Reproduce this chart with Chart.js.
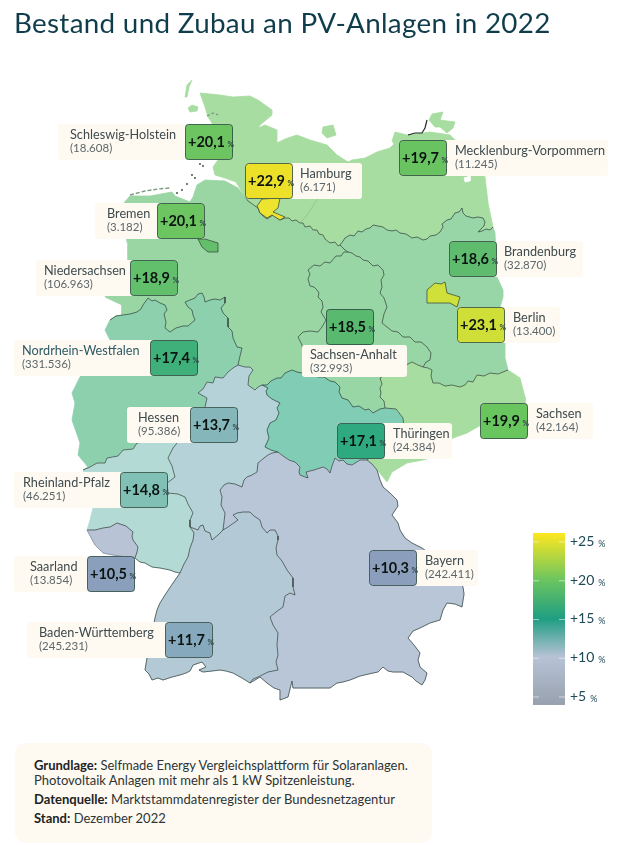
<!DOCTYPE html>
<html lang="de">
<head>
<meta charset="utf-8">
<title>Bestand und Zubau an PV-Anlagen in 2022</title>
<script src="https://cdn.jsdelivr.net/npm/chart.js@4"></script>
<style>
  body { margin: 0; background: #fff; font-family: Lato, sans-serif; }
  #wrap { position: relative; width: 633px; height: 845px; overflow: hidden; }
  canvas { position: absolute; left: 0; top: 0; }
  h1 { position: absolute; left: 14px; top: 3px; margin: 0; font-size: 27.8px; line-height: 40px; font-weight: 400; color: #0f3d4c; letter-spacing: .3px; white-space: nowrap; }
  #note { position: absolute; left: 15px; top: 743px; width: 417px; height: 100px; background: #fffaf1; border-radius: 11px; color: #2b3436; font-size: 13px; }
  #note p { position: absolute; left: 19px; margin: 0; line-height: 15px; white-space: nowrap; }
  #note b { color: #1b2325; }
</style>
</head>
<body>
<div id="wrap">
  <canvas id="karte" width="633" height="845"></canvas>
  <h1>Bestand und Zubau an PV-Anlagen in 2022</h1>
  <div id="note">
    <p style="top:15px"><b>Grundlage:</b> Selfmade Energy Vergleichsplattform für Solaranlagen.</p>
    <p style="top:30px">Photovoltaik Anlagen mit mehr als 1 kW Spitzenleistung.</p>
    <p style="top:49px"><b>Datenquelle:</b> Marktstammdatenregister der Bundesnetzagentur</p>
    <p style="top:68px"><b>Stand:</b> Dezember 2022</p>
  </div>
</div>
<script>
// Werte aus dem Bild
var laender = ['Schleswig-Holstein', 'Hamburg', 'Bremen', 'Niedersachsen', 'Mecklenburg-Vorpommern', 'Brandenburg', 'Berlin', 'Sachsen-Anhalt', 'Nordrhein-Westfalen', 'Hessen', 'Thüringen', 'Sachsen', 'Rheinland-Pfalz', 'Saarland', 'Baden-Württemberg', 'Bayern'];
var zubau = [20.1, 22.9, 20.1, 18.9, 19.7, 18.6, 23.1, 18.5, 17.4, 13.7, 17.1, 19.9, 14.8, 10.5, 11.7, 10.3];
var bestand = [18608, 6171, 3182, 106963, 11245, 32870, 13400, 32993, 331536, 95386, 24384, 42164, 46251, 13854, 245231, 242411];
var skalaTicks = [25, 20, 15, 10, 5];

// Farben
var flaechen = ['#a7dda0', '#ece42f', '#64bf6b', '#9ad6a3', '#a7dda0', '#98d5a7', '#cfe038', '#99d6a6', '#8cd0ae', '#b5d2d8', '#80ccb4', '#a7dda0', '#b4dad5', '#b8c4d6', '#b4c9d6', '#b9c6d8'];
var kacheln = ['#6cc561', '#ece128', '#6cc561', '#62bf6c', '#69c361', '#5fbc6f', '#cfdf37', '#58b96f', '#3fb07a', '#85b6ba', '#2fa97f', '#69c55e', '#80c0b5', '#8a9fbc', '#86a9bd', '#8b9fbd'];

// Position von Kachel und Beschriftung: [kachelX, kachelY, boxLinks, boxRechts, textX]
var layout = [
  [185, 124, 58, 232, 70], [245, 163, 245, 362, 300], [157, 203, 95, 205, 107], [130, 260, 36, 178, 44],
  [399, 140, 399, 608, 455], [449, 241, 449, 583, 504], [457, 307, 457, 560, 513], [326, 309, 302, 407, 310],
  [150, 340, 14, 197, 22], [190, 407, 127, 237, 138], [337, 423, 337, 452, 393], [480, 403, 480, 593, 536],
  [120, 472, 14, 167, 23], [87, 556, 14, 134, 30], [165, 622, 27, 213, 39], [369, 550, 369, 478, 425]
];

// Grenzverläufe
var shNds = [[245,197],[248,201],[251,203],[255,206],[258,208],[260,213],[263,216],[267,219],[273,215],[280,220],[285,218],[289,218],[292,221],[296,220],[300,223]];
var shMv = [[300,223],[307,215],[317,200],[323,192],[330,185],[337,177],[343,170],[348,162]];
var mvNds = [[300,223],[303,223],[305,227],[310,226],[313,230],[317,230],[319,234],[323,235],[325,239],[330,243],[335,242],[338,246],[340,245]];
var bbNds = [[340,245],[345,250],[348,252]];
var mvBb = [[340,245],[343,241],[345,238],[350,235],[354,236],[358,231],[362,232],[366,229],[370,228],[373,225],[378,226],[383,227],[387,230],[392,231],[396,230],[400,233],[406,234],[412,238],[417,237],[423,240],[427,239],[430,236],[436,235],[440,232],[443,227],[442,224],[447,220],[451,219],[455,213],[459,212],[462,208],[463,213],[466,216],[473,218],[478,217],[483,218],[485,222],[484,226],[478,232],[482,231],[486,229],[490,230],[493,227]];
var stNds = [[348,252],[344,252],[341,256],[336,256],[330,263],[325,262],[320,266],[314,265],[308,270],[310,274],[308,279],[310,286],[314,287],[317,290],[319,293],[318,297],[322,301],[323,307],[321,312],[326,320],[322,327],[318,332],[310,331],[303,332],[298,337],[300,341],[302,345],[304,360],[306,374]];
var stBb = [[348,252],[352,253],[356,256],[360,257],[363,260],[368,261],[373,266],[378,265],[383,270],[384,275],[381,280],[382,287],[380,293],[384,298],[387,307],[384,314],[382,323],[387,327],[392,331],[398,332],[403,337],[410,337],[415,342],[421,342],[427,347],[431,353],[430,360],[426,362],[423,367]];
var stSn = [[423,367],[418,365],[412,362],[406,365],[400,368],[390,372],[380,378],[382,384],[380,388],[381,393],[380,397],[384,401],[385,408]];
var bbSn = [[423,367],[428,368],[432,370],[431,376],[433,383],[439,383],[445,386],[452,385],[460,387],[465,385],[468,381],[473,382],[477,375],[484,376],[490,373],[498,374],[508,370]];
var stTh = [[306,374],[312,374],[318,377],[324,377],[330,381],[335,382],[340,387],[339,392],[342,398],[348,400],[353,407],[359,406],[365,410],[369,409],[373,413],[380,409],[385,408]];
var thSn = [[385,408],[396,409],[403,418],[404,428],[395,440],[380,450],[367,460]];
var thNds = [[262,385],[267,385],[271,381],[277,378],[281,378],[285,373],[292,370],[297,372],[302,373],[306,374]];
var heTh = [[262,385],[268,388],[266,391],[267,395],[272,399],[280,403],[277,408],[279,413],[276,420],[270,423],[267,430],[269,438],[265,447],[271,450],[278,452]];
var ndsHe = [[238,365],[245,367],[250,367],[253,370],[249,376],[248,385],[255,390],[258,387],[262,385]];
var ndsNrw = [[110,320],[116,316],[123,315],[130,314],[137,312],[141,309],[143,305],[148,298],[152,301],[155,300],[160,303],[165,305],[167,310],[164,314],[166,322],[165,328],[170,332],[176,328],[183,326],[188,326],[195,320],[193,315],[192,310],[188,307],[185,302],[190,300],[195,298],[198,294],[202,293],[204,297],[205,302],[210,300],[215,299],[220,300],[225,297],[225,303],[221,308],[223,313],[228,318],[228,327],[232,331],[233,338],[237,347],[242,348],[240,356],[238,365]];
var nrwHe = [[238,365],[233,368],[228,372],[223,378],[215,377],[213,383],[207,382],[203,389],[198,393],[207,398],[205,407],[205,425],[190,437],[178,440]];
var nrwRp = [[178,440],[160,441],[143,442],[137,443],[133,449],[123,450],[118,456],[107,458],[105,463],[97,463],[90,467],[83,470]];
var heRp = [[178,440],[177,443],[173,448],[168,458],[172,466],[175,477],[167,483],[168,493],[178,494],[185,497],[188,504],[193,513],[190,520],[190,527]];
var heBw = [[190,527],[198,530],[200,526],[203,525],[205,531],[210,533],[211,537],[212,540],[218,535],[223,530]];
var heBy = [[223,530],[224,522],[225,513],[221,505],[222,497],[220,490],[224,485],[228,483],[235,484],[242,487],[244,480],[247,477],[252,475],[257,472],[258,463],[264,458],[268,455],[272,453],[278,452]];
var thBy = [[278,452],[283,456],[289,460],[295,462],[300,467],[299,472],[300,475],[305,477],[308,478],[306,472],[314,470],[323,467],[327,469],[330,473],[332,466],[335,458],[339,461],[343,460],[347,464],[352,465],[360,460],[367,460]];
var rpBw = [[190,527],[194,533],[193,540],[190,548],[188,557],[184,564],[180,573]];
var rpSl = [[87,530],[95,530],[103,528],[110,527],[117,523],[126,526],[133,532],[132,536],[133,540],[138,547],[137,552],[135,558]];
var bwBy = [[223,530],[228,527],[238,520],[233,515],[237,513],[243,512],[250,512],[254,516],[260,520],[262,527],[267,533],[270,530],[275,530],[278,536],[278,540],[276,548],[277,555],[282,561],[287,570],[293,578],[293,587],[295,595],[290,593],[285,596],[283,607],[276,612],[270,617],[273,625],[278,633],[277,645],[278,655],[276,662],[278,670],[268,672],[258,677],[253,679],[250,683]];

// Aussenkanten
var kuesteSh = [[348,162],[337,155],[327,145],[310,140],[297,135],[285,139],[277,143],[277,130],[265,125],[258,128],[260,125],[272,115],[272,110],[258,100],[250,96],[233,97],[220,95],[200,93],[205,107],[208,117],[212,123],[214,140],[218,160],[213,167],[215,175],[225,178],[236,182],[245,197]];
var kuesteMv = [[493,227],[488,203],[485,177],[478,165],[470,145],[455,140],[450,135],[437,133],[430,132],[423,133],[407,135],[395,132],[392,141],[394,144],[390,148],[377,152],[365,158],[352,160],[348,162]];
var ostBb = [[493,227],[495,233],[496,255],[497,277],[503,290],[503,297],[500,307],[503,325],[505,343],[505,358],[508,370]];
var sachsenRand = [[508,370],[520,378],[525,397],[525,405],[490,420],[467,433],[453,438],[430,458],[423,460],[407,463],[392,472],[387,482],[375,467],[367,460]];
var nordNds = [[245,197],[238,188],[225,181],[205,180],[197,185],[193,197],[190,202],[175,196],[172,192],[150,196],[130,196],[122,205],[122,225],[128,245],[128,262],[105,297],[122,305],[122,315],[110,320]];
var westNrw = [[110,320],[105,330],[110,340],[80,377],[72,393],[75,403],[72,420],[80,443],[78,455],[88,467],[83,470]];
var westRp = [[83,470],[88,480],[93,508],[90,520],[87,530]];
var slRand = [[87,530],[95,545],[103,553],[113,555],[135,558]];
var suedRp = [[135,558],[140,562],[145,563],[152,567],[160,568],[170,570],[175,572],[180,573]];
var bwRand = [[180,573],[173,583],[165,595],[160,603],[157,610],[155,618],[152,635],[147,658],[145,670],[149,674],[152,680],[158,678],[163,680],[172,677],[180,675],[186,673],[190,671],[193,665],[202,662],[206,667],[199,670],[203,672],[212,671],[220,670],[226,671],[233,673],[242,678],[250,683]];
var byRand = [[367,460],[372,464],[377,470],[380,480],[383,487],[390,493],[397,500],[398,506],[392,515],[398,523],[400,530],[405,538],[412,543],[422,548],[445,565],[463,587],[464,594],[462,607],[455,604],[447,603],[443,610],[440,620],[430,623],[420,628],[413,631],[408,638],[414,645],[420,653],[418,660],[420,667],[427,673],[425,680],[422,685],[416,681],[412,677],[403,672],[393,672],[388,671],[383,667],[378,672],[373,673],[360,676],[350,680],[343,682],[337,683],[330,688],[320,688],[307,688],[293,688],[292,681],[288,697],[280,700],[280,690],[274,688],[267,683],[260,677],[250,683]];

// Stadtstaaten, Inseln und Seen
var hamburgRand = [[257,206],[262,199],[280,198],[278,208],[273,212],[285,217],[280,220],[272,215],[267,218],[260,213],[258,208]];
var bremenRand = [[198,239],[202,247],[208,252],[218,252],[218,243],[205,239]];
var berlinRand = [[427,290],[435,283],[441,284],[445,282],[447,293],[460,297],[457,307],[450,303],[435,303],[427,303]];
var fehmarn = [[322,133],[323,127],[333,125],[336,135],[330,137],[327,138]];
var foehr = [[188,108],[192,105],[198,107],[197,111],[190,112]];
var sylt = [[192,80],[187,85],[185,97],[187,97],[189,87]];
var ruegen = [[429,120],[432,114],[443,112],[440,120],[455,122],[453,128],[447,133],[440,127],[435,127]];
var haff = [[464,178],[470,176],[470,181],[465,182]];
var boddenLinie = [[408,135],[415,133],[422,133],[425,128],[427,120]];
var friesen = [[130,195],[145,191],[158,189],[170,188]];
var halligen = [[207,116],[213,113],[218,115]];
var inselPunkte = [[200,164],[203,166],[192,175],[195,178],[187,184],[182,190],[177,193]];

function rueck(a) { return a.slice().reverse(); }

var umrisse = [
  [].concat(kuesteSh, shNds, shMv),
  hamburgRand,
  bremenRand,
  [].concat(nordNds, ndsNrw, ndsHe, thNds, rueck(stNds), rueck(bbNds), rueck(mvNds), rueck(shNds)),
  [].concat(kuesteMv, rueck(shMv), mvNds, mvBb),
  [].concat(rueck(mvBb), bbNds, stBb, bbSn, rueck(ostBb)),
  berlinRand,
  [].concat(stNds, stTh, rueck(stSn), rueck(stBb)),
  [].concat(ndsNrw, nrwHe, nrwRp, rueck(westNrw)),
  [].concat(rueck(ndsHe), rueck(nrwHe), heRp, heBw, heBy, rueck(heTh)),
  [].concat(thNds, stTh, thSn, rueck(thBy), rueck(heTh)),
  [].concat(rueck(stSn), bbSn, sachsenRand, rueck(thSn)),
  [].concat(rueck(nrwRp), heRp, rpBw, rueck(suedRp), rueck(rpSl), rueck(westRp)),
  [].concat(rpSl, rueck(slRand)),
  [].concat(heBw, bwBy, rueck(bwRand), rueck(rpBw)),
  [].concat(heBy, thBy, byRand, rueck(bwBy))
];

function pts(a) { return a.map(function (p) { return { x: p[0], y: p[1] }; }); }

function flaeche(a, farbe) {
  return { data: pts(a.concat([a[0]])), showLine: true, fill: 'shape', backgroundColor: farbe, borderColor: farbe, borderWidth: 0.8, pointRadius: 0, tension: 0 };
}

function linie(a, farbe, breite) {
  return { data: pts(a), showLine: true, fill: false, borderColor: farbe, borderWidth: breite, pointRadius: 0, tension: 0 };
}

var datasets = [];
// Stadtstaaten zuletzt, damit sie oben liegen
[0, 3, 4, 5, 7, 8, 9, 10, 11, 12, 13, 14, 15].forEach(function (i) {
  datasets.push(flaeche(umrisse[i], flaechen[i]));
});
datasets.push(flaeche(fehmarn, flaechen[0]), flaeche(foehr, flaechen[0]), flaeche(sylt, flaechen[0]), flaeche(ruegen, flaechen[4]));
datasets.push(flaeche(haff, '#ffffff'));

var innenGrenzen = [shNds, mvNds, bbNds, mvBb, stNds, stBb, stSn, bbSn, stTh, thSn, thNds, heTh, ndsHe, ndsNrw, nrwHe, nrwRp, heRp, heBw, heBy, thBy, rpBw, rpSl, bwBy, bwRand, byRand, suedRp];
innenGrenzen.forEach(function (g) { datasets.push(linie(g, '#2f3f38', 0.7)); });
datasets.push(linie(shMv, '#86bd82', 0.7), linie(slRand, '#7d8a9c', 0.7), linie(boddenLinie, '#1f2a26', 1.2));
var friesenLinie = linie(friesen, '#7a9a80', 1.4);
friesenLinie.borderDash = [4, 2];
var halligLinie = linie(halligen, '#7a9a80', 1.3);
halligLinie.borderDash = [3, 2];
datasets.push(friesenLinie, halligLinie);
datasets.push({ data: pts(inselPunkte), showLine: false, pointRadius: 0.9, pointBorderWidth: 0, pointBackgroundColor: '#33433c' });
[1, 2, 6].forEach(function (i) {
  var d = flaeche(umrisse[i], flaechen[i]);
  d.borderColor = '#2f3f38';
  d.borderWidth = 0.7;
  datasets.push(d);
});
// Chart.js zeichnet den ersten Datensatz zuletzt
datasets.reverse();

function tausender(n) { return String(n).replace(/\B(?=(\d{3})+$)/g, '.'); }
function zubauText(v) { return '+' + v.toFixed(1).replace('.', ','); }

// Beschriftungen und Farbskala
var beschriftung = {
  id: 'beschriftung',
  afterDatasetsDraw: function (chart) {
    var c = chart.ctx, sx = chart.scales.x, sy = chart.scales.y, sk = chart.scales.skala;
    var w = 48, h = 36;
    c.save();
    c.textBaseline = 'alphabetic';

    laender.forEach(function (name, i) {
      var l = layout[i];
      var kx = sx.getPixelForValue(l[0]), ky = sy.getPixelForValue(l[1]);
      var boxL = sx.getPixelForValue(l[2]), boxR = sx.getPixelForValue(l[3]);
      var oben = ky, boxH = h;
      if (name === 'Sachsen-Anhalt') { oben = ky + h; boxH = 32; }
      c.fillStyle = '#fffaf1';
      c.beginPath();
      c.roundRect(boxL, oben, boxR - boxL, boxH, 3);
      c.fill();

      c.fillStyle = kacheln[i];
      c.strokeStyle = 'rgba(30,60,50,.75)';
      c.lineWidth = 1;
      c.beginPath();
      c.roundRect(kx + 0.5, ky + 0.5, w - 1, h - 1, 3);
      c.fill();
      c.stroke();

      var tx = sx.getPixelForValue(l[4]);
      var nameY = name === 'Sachsen-Anhalt' ? oben + 14 : ky + 15;
      c.fillStyle = name === 'Nordrhein-Westfalen' ? '#2d5a66' : '#3d4a4e';
      c.font = '12.7px Lato';
      c.fillText(name, tx, nameY);
      c.font = '11.5px Lato';
      c.fillStyle = '#5c676b';
      c.fillText('(' + tausender(bestand[i]) + ')', tx, nameY + 13);

      c.fillStyle = '#0c1412';
      c.font = 'bold 14.5px Lato';
      var t = zubauText(zubau[i]);
      c.fillText(t, kx + 3, ky + 23);
      var tw = c.measureText(t).width;
      c.fillStyle = '#33484a';
      c.font = 'bold 8px Lato';
      c.fillText('%', kx + 3 + tw + 2.5, ky + 23);
    });

    // Farbskala, Lage über die eigene Skala
    var oben25 = sk.getPixelForValue(26.16), unten5 = sk.getPixelForValue(3.97);
    var bx = 533, bw = 32;
    var g = c.createLinearGradient(0, oben25, 0, unten5);
    g.addColorStop(0, '#ffe71f');
    g.addColorStop(0.27, '#6cc55f');
    g.addColorStop(0.5, '#1f9e82');
    g.addColorStop(0.72, '#b7c2d6');
    g.addColorStop(1, '#97a1ae');
    c.fillStyle = g;
    c.fillRect(bx, oben25, bw, unten5 - oben25);

    skalaTicks.forEach(function (v) {
      var y = sk.getPixelForValue(v);
      c.fillStyle = 'rgba(255,255,255,.55)';
      c.fillRect(bx, y - 0.5, 6, 1);
      c.fillRect(bx + bw - 6, y - 0.5, 6, 1);
      var t = '+' + v;
      c.fillStyle = '#1d4a55';
      c.font = '14px Lato';
      c.fillText(t, bx + 37, y + 4);
      var tw = c.measureText(t).width;
      c.font = '9px Lato';
      c.fillText('%', bx + 37 + tw + 4, y + 5);
    });
    c.restore();
  }
};

new Chart(document.getElementById('karte').getContext('2d'), {
  type: 'scatter',
  data: { datasets: datasets },
  options: {
    responsive: false,
    animation: false,
    layout: { padding: 0, autoPadding: false },
    plugins: { legend: { display: false }, tooltip: { enabled: false }, title: { display: false } },
    scales: {
      x: { type: 'linear', min: 0, max: 633, display: false },
      y: { type: 'linear', min: 0, max: 845, reverse: true, display: false },
      skala: { type: 'linear', axis: 'y', min: -14.1, max: 94.94, display: false }
    }
  },
  plugins: [beschriftung]
});
</script>
</body>
</html>
